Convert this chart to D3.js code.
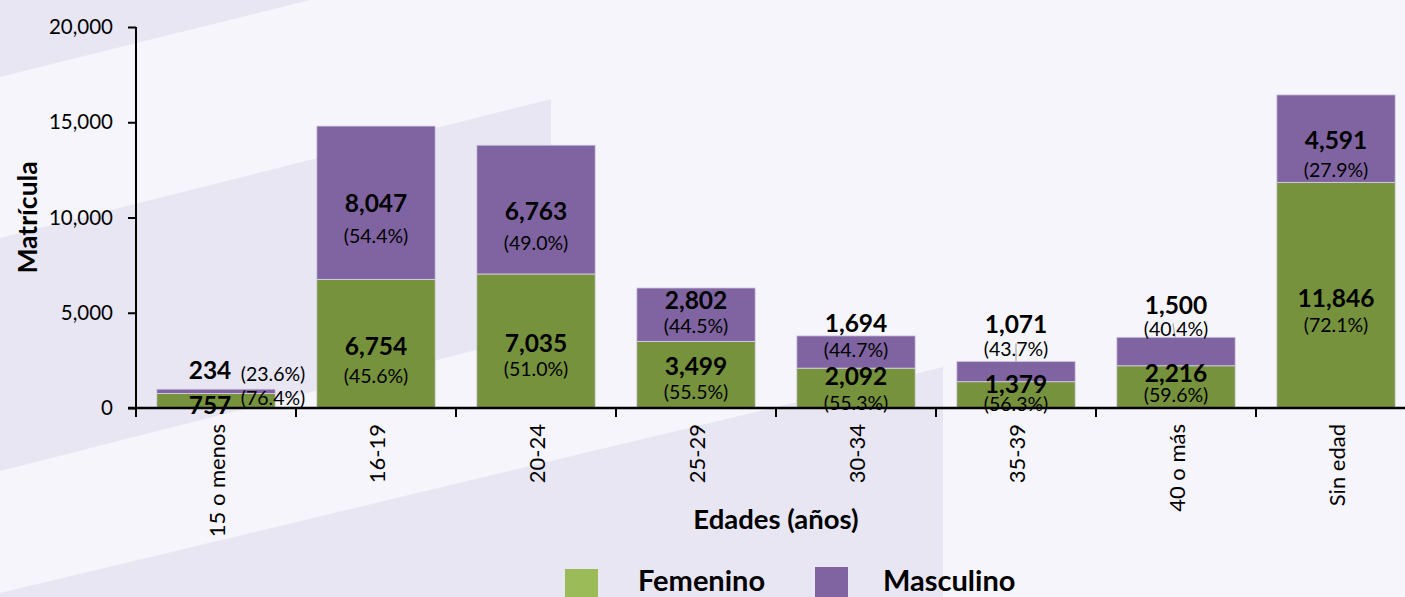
<!DOCTYPE html>
<html>
<head>
<meta charset="utf-8">
<script src="https://cdn.jsdelivr.net/npm/d3@7"></script>
<style>
    html, body { margin: 0; padding: 0; background: #f6f5fb; overflow: hidden; }
    text { font-family: Lato, "Open Sans", sans-serif; fill: #000; }
</style>
</head>
<body>
<script>
const categories = ["15 o menos", "16-19", "20-24", "25-29", "30-34", "35-39", "40 o más", "Sin edad"];
const femenino = [757, 6754, 7035, 3499, 2092, 1379, 2216, 11846];
const masculino = [234, 8047, 6763, 2802, 1694, 1071, 1500, 4591];
const pctFemenino = ["76.4", "45.6", "51.0", "55.5", "55.3", "56.3", "59.6", "72.1"];
const pctMasculino = ["23.6", "54.4", "49.0", "44.5", "44.7", "43.7", "40.4", "27.9"];
const yTicks = [0, 5000, 10000, 15000, 20000];
const seriesNames = ["Femenino", "Masculino"];

// label nudges (px), hand placed like in the original
const femLabelDy = [4, 2, 2, -9, -13, -11, -14, 2];
const mascLabelDy = [-22, 0, 1, -15, -30, -48, -47, 1];
const femPctDy = [-7, 30, 26, 26, 27, 20, 22, 27];
const mascPctDy = [4, 33, 32, 26, 27, 25, 24, 30];
const leaderIdx = [5, 6];

const width = 1405;
const height = 597;

const margin = {
    left: 136,
    right: -11,
    top: 27,
    bottom: 189
};

const colors = {
    Femenino: "#76923c",
    Masculino: "#8064a2"
};

let svg = d3.select("body").append("svg")
    .attr("width", width)
    .attr("height", height);

// background bands
let bg = svg.append("g");
const bands = [
    [[0, 0], [310, 0], [0, 77]],
    [[0, 238], [551, 99], [551, 331], [0, 471]],
    [[0, 593], [943, 367], [943, height], [0, height]]
];
bg.selectAll("polygon")
    .data(bands)
    .enter()
    .append("polygon")
    .attr("points", d => d.map(p => p.join(",")).join(" "))
    .attr("fill", "#e8e6f3");

let data = categories.map((c, i) => ({
    cat: c,
    Femenino: femenino[i],
    Masculino: masculino[i],
    i: i
}));

let stacked = d3.stack().keys(seriesNames)(data);

let xScale = d3.scaleBand()
    .domain(categories)
    .range([margin.left, width - margin.right])
    .paddingInner(0.26)
    .paddingOuter(0.13);

let yScale = d3.scaleLinear()
    .domain([0, 20000])
    .range([height - margin.bottom, margin.top]);

// bars
svg.append("g")
    .selectAll("g")
    .data(stacked)
    .enter()
    .append("g")
    .attr("fill", d => colors[d.key])
    .selectAll("rect")
    .data(d => d)
    .enter()
    .append("rect")
    .attr("x", d => xScale(d.data.cat))
    .attr("y", d => yScale(d[1]))
    .attr("height", d => yScale(d[0]) - yScale(d[1]))
    .attr("width", xScale.bandwidth())
    .attr("stroke", "#d9d2e6")
    .attr("stroke-width", 0.8);

// y axis
let yAxis = svg.append("g")
    .attr("transform", "translate(" + margin.left + ",0)")
    .call(d3.axisLeft(yScale).tickValues(yTicks).tickSize(8).tickPadding(15)
        .tickFormat(d3.format(",")));
yAxis.select(".domain").attr("stroke-width", 2).attr("d", `M0,${yScale(0)}V${yScale(20000)}`);
yAxis.selectAll(".tick line").attr("stroke-width", 2);
yAxis.selectAll("text")
    .style("font-size", "20.5px")
    .style("font-family", "Lato, sans-serif")
    .attr("fill", "#000");

// x axis with ticks on category boundaries
let step = xScale.step();
let x0 = margin.left;
let xAxisG = svg.append("g")
    .attr("transform", "translate(0," + yScale(0) + ")");
xAxisG.append("line")
    .attr("x1", margin.left - 8)
    .attr("x2", width)
    .attr("stroke", "#000")
    .attr("stroke-width", 2.5);
xAxisG.selectAll(".xtick")
    .data(d3.range(categories.length))
    .enter()
    .append("line")
    .attr("x1", i => x0 + i * step)
    .attr("x2", i => x0 + i * step)
    .attr("y1", 0)
    .attr("y2", 9)
    .attr("stroke", "#000")
    .attr("stroke-width", 2);
xAxisG.selectAll(".xlab")
    .data(categories)
    .enter()
    .append("text")
    .attr("text-anchor", "end")
    .attr("dominant-baseline", "central")
    .style("font-size", "22px")
    .attr("transform", d => `translate(${xScale(d) + xScale.bandwidth() / 2}, 16) rotate(-90)`)
    .text(d => d);

// value labels
let cx = i => xScale(categories[i]) + xScale.bandwidth() / 2;
let labels = svg.append("g");

function addLabel(seriesIdx, values, pcts, dyArr, pctDyArr) {
    let layer = stacked[seriesIdx];
    layer.forEach((d, i) => {
        let mid = (yScale(d[0]) + yScale(d[1])) / 2;
        let vy = mid + dyArr[i];
        let vx = cx(i);
        let px = vx;
        if (i === 0) {
            vx = cx(i) - 6;
            px = cx(i) + 57;
        }
        labels.append("text")
            .attr("x", vx)
            .attr("y", vy)
            .attr("text-anchor", "middle")
            .attr("dominant-baseline", "central")
            .style("font-size", "24.5px")
            .style("font-weight", "bold")
            .text(d3.format(",")(values[i]));
        labels.append("text")
            .attr("x", px)
            .attr("y", vy + pctDyArr[i])
            .attr("text-anchor", "middle")
            .attr("dominant-baseline", "central")
            .style("font-size", "19.5px")
            .text("(" + pcts[i] + "%)");
        if (seriesIdx === 1 && leaderIdx.includes(i)) {
            labels.insert("line", ":first-child")
                .attr("x1", cx(i) - (i === 6 ? 3 : 0))
                .attr("x2", cx(i) - (i === 6 ? 1 : 0))
                .attr("y1", vy + pctDyArr[i] - 5)
                .attr("y2", yScale(d[1]))
                .attr("stroke", "#a6a6a6")
                .attr("stroke-width", 1.2);
        }
    });
}
addLabel(0, femenino, pctFemenino, femLabelDy, femPctDy);
addLabel(1, masculino, pctMasculino, mascLabelDy, mascPctDy);

// axis titles
svg.append("text")
    .attr("text-anchor", "middle")
    .attr("dominant-baseline", "central")
    .style("font-size", "26.5px")
    .style("font-weight", "bold")
    .attr("transform", `translate(27, ${(yScale(0) + yScale(20000)) / 2}) rotate(-90)`)
    .text("Matrícula");

svg.append("text")
    .attr("x", 776)
    .attr("y", 518)
    .attr("text-anchor", "middle")
    .attr("dominant-baseline", "central")
    .style("font-size", "27.5px")
    .style("font-weight", "bold")
    .text("Edades (años)");

// legend
const legendColors = ["#9bbb59", "#8064a2"];
const legendX = [565, 815];
let legend = svg.append("g");
seriesNames.forEach((s, i) => {
    legend.append("rect")
        .attr("x", legendX[i])
        .attr("y", 569 - i * 2)
        .attr("width", 33)
        .attr("height", 33)
        .attr("fill", legendColors[i]);
    legend.append("text")
        .attr("x", legendX[i] + 73 - i * 5)
        .attr("y", 579)
        .attr("dominant-baseline", "central")
        .style("font-size", "29px")
        .style("font-weight", "bold")
        .text(s);
});
</script>
</body>
</html>
